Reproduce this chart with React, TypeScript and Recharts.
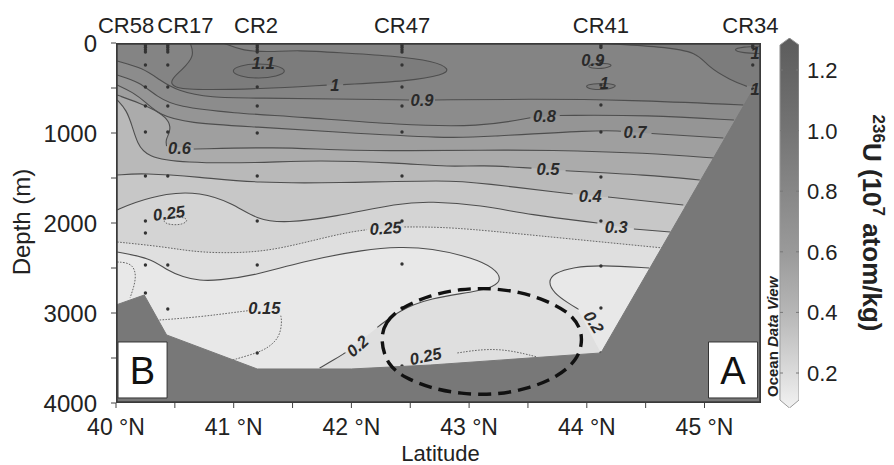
import React from 'react';
import { ComposedChart, Scatter, XAxis, YAxis } from 'recharts';

type P = [number, number];

const FONT = '"Liberation Sans", Arial, Helvetica, sans-serif';
const LAT_MIN = 40;
const LAT_MAX = 45.48;
const DEPTH_MAX = 4000;

// axis ticks
const latTicks = [40, 40.5, 41, 41.5, 42, 42.5, 43, 43.5, 44, 44.5, 45];
const depthTicks = [0, 500, 1000, 1500, 2000, 2500, 3000, 3500, 4000];
const cbTicks = [0.2, 0.4, 0.6, 0.8, 1.0, 1.2];

// stations
const stationNames = ['CR58', 'CR17', 'CR2', 'CR47', 'CR41', 'CR34'];
const stationLabelLat = [40.085, 40.59, 41.19, 42.43, 44.12, 45.39];
const stationLat = [40.25, 40.44, 41.2, 42.43, 44.12, 45.41];
const stationDepths = [
  [10, 30, 50, 75, 100, 244, 489, 700, 989, 1478, 1978, 2111, 2467, 2778],
  [10, 30, 50, 75, 100, 244, 489, 700, 989, 1478, 2467, 2956],
  [10, 30, 50, 75, 100, 489, 700, 1000, 1478, 1978, 2467, 3444],
  [10, 30, 50, 75, 100, 244, 489, 700, 989, 1478, 1978, 2456, 2944, 3589],
  [10, 30, 50, 222, 467, 689, 989, 1489, 1978, 2478, 2944, 3444],
  [10, 30, 50, 244, 511],
];

// contour lines, [latitude, depth]
const c11: P[] = [[40.97, 311], [41.05, 250], [41.21, 225], [41.37, 250], [41.46, 311], [41.37, 372], [41.21, 397], [41.05, 372]];
const c10a: P[] = [[40.63, 0], [40.67, 144], [40.56, 300], [40.46, 411], [40.48, 500], [40.69, 522], [41.22, 511], [41.79, 468]];
const c10b: P[] = [[41.93, 462], [42.5, 422], [42.78, 356], [42.84, 289], [42.7, 200], [42.36, 144], [41.93, 111], [41.54, 78], [41.31, 100], [41.08, 89], [40.91, 0]];
const cTR: P[] = [[44.1, 0], [44.65, 44], [44.94, 100], [45.03, 267], [45.22, 411], [45.36, 482]];
const cTRloop: P[] = [[45.48, 35], [45.33, 42], [45.23, 75], [45.33, 112], [45.48, 118]];
const c09loop: P[] = [[44.0, 250], [44.1, 218], [44.24, 240], [44.16, 285], [44.03, 282]];
const c10loop: P[] = [[43.98, 480], [44.04, 452], [44.2, 447], [44.27, 478], [44.16, 522], [44.03, 515]];
const c09a: P[] = [[40.01, 200], [40.23, 278], [40.37, 411], [40.52, 533], [40.8, 611], [41.22, 611], [41.85, 622], [42.49, 633]];
const c09b: P[] = [[42.71, 633], [43.52, 622], [44.37, 633], [45.33, 689]];
const c08a: P[] = [[40.01, 356], [40.2, 433], [40.35, 600], [40.52, 711], [40.99, 778], [41.56, 822], [42.41, 911], [43.1, 933], [43.52, 830]];
const c08b: P[] = [[43.77, 805], [44.52, 800], [45.25, 856]];
const c07a: P[] = [[40.01, 467], [40.14, 544], [40.26, 667], [40.37, 800], [40.6, 889], [41.2, 933], [41.85, 989], [42.84, 1060], [43.1, 1044], [44.09, 967], [44.29, 980]];
const c07b: P[] = [[44.55, 1005], [45.16, 1056]];
const c06a: P[] = [[40.01, 578], [40.2, 667], [40.37, 767], [40.46, 878], [40.46, 989], [40.42, 1078], [40.43, 1145]];
const c06b: P[] = [[40.66, 1178], [41.37, 1156], [41.85, 1189], [42.5, 1200], [43.1, 1189], [43.67, 1189], [44.52, 1222], [45.08, 1278]];
const c05a: P[] = [[40.01, 633], [40.09, 744], [40.14, 933], [40.18, 1111], [40.26, 1267], [40.57, 1333], [41.2, 1333], [41.71, 1300], [42.41, 1333], [42.84, 1378], [43.1, 1356], [43.53, 1390]];
const c05b: P[] = [[43.82, 1420], [44.52, 1467], [44.96, 1522]];
const c04a: P[] = [[40.01, 1467], [40.23, 1444], [40.71, 1489], [41.2, 1556], [41.85, 1556], [42.84, 1522], [43.1, 1556], [43.88, 1678]];
const c04b: P[] = [[44.18, 1711], [44.82, 1800]];
const c03a: P[] = [[40.01, 1856], [40.14, 1778], [40.43, 1667], [40.71, 1656], [40.99, 1778], [41.2, 1967], [41.45, 2000], [41.85, 1933], [42.41, 1778], [42.67, 1760], [43.1, 1800], [43.52, 1911], [44.09, 2000]];
const c03b: P[] = [[44.4, 2067], [44.71, 2100]];
const c025a: P[] = [[40.01, 2211], [40.43, 2267], [40.71, 2333], [41.2, 2333], [41.56, 2233], [41.93, 2111], [42.13, 2075]];
const c025b: P[] = [[42.45, 2044], [42.84, 2044], [43.52, 2133], [44.65, 2278]];
const c025loop: P[] = [[40.39, 1978], [40.45, 1935], [40.55, 1930], [40.62, 1960], [40.57, 2020], [40.45, 2022]];
const c02La: P[] = [[40.01, 2322], [40.29, 2389], [40.43, 2522], [40.57, 2600], [40.71, 2640], [40.86, 2640], [41.2, 2578], [41.56, 2433], [42.13, 2289], [42.41, 2267], [42.67, 2278], [43.04, 2389], [43.21, 2500], [43.28, 2622], [43.21, 2711], [43.04, 2767], [42.67, 2833], [42.41, 2967], [42.22, 3160]];
const c02Lb: P[] = [[41.95, 3440], [41.85, 3522], [41.73, 3611]];
const c02R: P[] = [[44.53, 2500], [44.12, 2467], [43.89, 2489], [43.72, 2556], [43.67, 2656], [43.72, 2778], [43.84, 2889], [43.93, 2960]];
const c015L: P[] = [[40.01, 2433], [40.14, 2444], [40.18, 2600], [40.12, 2830]];
const c015a: P[] = [[40.37, 3078], [40.71, 3044], [41.03, 2989], [41.12, 2975]];
const c015b: P[] = [[41.4, 3030], [41.41, 3100], [41.39, 3267], [41.3, 3380], [41.2, 3444], [40.99, 3522]];
const c025bot: P[] = [[42.9, 3444], [43.24, 3378], [43.58, 3489]];

// dashed outline around the deep maximum
const ellipse: P[] = [
  [42.245, 3300], [42.287, 3100], [42.415, 2944], [42.67, 2800], [42.925, 2733], [43.18, 2722],
  [43.435, 2767], [43.648, 2856], [43.861, 3000], [43.946, 3167], [43.963, 3322], [43.92, 3522],
  [43.75, 3711], [43.52, 3833], [43.24, 3911], [42.925, 3900], [42.67, 3833], [42.457, 3722], [42.304, 3578],
];

// sea floor
const bathy: P[] = [[40, 2911], [40.24, 2800], [40.43, 3244], [41.2, 3622], [42.0, 3622], [42.67, 3578], [44.12, 3444], [45.41, 522], [45.48, 500], [45.48, 4000], [40, 4000]];

// contour labels
const labelText = ['1.1', '1', '0.9', '0.8', '0.7', '0.6', '0.5', '0.4', '0.3', '0.25', '0.25', '0.2', '0.2', '0.15', '0.25', '0.9', '1', '1', '1'];
const labelLat = [41.25, 41.86, 42.6, 43.64, 44.41, 40.54, 43.67, 44.03, 44.25, 42.29, 40.45, 42.05, 44.06, 41.26, 42.63, 44.05, 44.15, 45.43, 45.43];
const labelDepth = [222, 467, 633, 811, 989, 1167, 1400, 1700, 2044, 2056, 1889, 3367, 3100, 2944, 3478, 189, 444, 111, 514];
const labelAngle = [0, 0, 0, 0, 0, 0, 0, 0, 0, -4, -8, -42, 58, 0, -12, 0, 0, 0, 0];

// panel letters
const panelText = ['B', 'A'];
const panelLat = [40.225, 45.242];
const panelDepth = [3633, 3633];
const boxB: P[] = [[40.017, 3322], [40.434, 3322], [40.434, 3944], [40.017, 3944], [40.017, 3322]];
const boxA: P[] = [[45.034, 3322], [45.451, 3322], [45.451, 3944], [45.034, 3944], [45.034, 3322]];

// colour bar outline (x across the bar, v = 236U value)
const cbOutline = [[0.44, 0.1109], [0.44, 1.2825], [0.72, 1.3056], [1, 1.2825], [1, 0.1109], [0.72, 0.0845], [0.44, 0.1109]];

const toPts = (a: P[]) => a.map(([lat, depth]) => ({ lat, depth }));
const BL: P = [LAT_MIN, DEPTH_MAX];
const BR: P = [LAT_MAX, DEPTH_MAX];
const triple = (p: P): P[] => [p, p, p];
const below = (line: P[], corner: P[] = [...triple(BR), ...triple(BL)]) => {
  const end = line[line.length - 1];
  return toPts([...line, end, end, ...corner]);
};

const fills: { id: string; data: { lat: number; depth: number }[]; color: string; type: string }[] = [
  { id: 'base', data: toPts([[LAT_MIN, 0], [LAT_MAX, 0], BR, BL]), color: '#848484', type: 'linear' },
  { id: 'gt1', data: toPts([...c10a, ...c10b]), color: '#7c7c7c', type: 'basis' },
  { id: 'gt1tr', data: toPts([...cTR, ...triple([LAT_MAX, 500]), [LAT_MAX, 0]]), color: '#7c7c7c', type: 'basis' },
  { id: 'gt11', data: toPts(c11), color: '#777777', type: 'basisClosed' },
  { id: 'gt1loop', data: toPts(c10loop), color: '#7c7c7c', type: 'basisClosed' },
  { id: 'b09', data: below([...c09a, ...c09b]), color: '#8c8c8c', type: 'basis' },
  { id: 'b08', data: below([...c08a, ...c08b]), color: '#959595', type: 'basis' },
  { id: 'b07', data: below([...c07a, ...c07b]), color: '#9f9f9f', type: 'basis' },
  { id: 'b06', data: below([...c06a, ...c06b]), color: '#ababab', type: 'basis' },
  { id: 'b05', data: below([...c05a, ...c05b]), color: '#b9b9b9', type: 'basis' },
  { id: 'b04', data: below([...c04a, ...c04b]), color: '#c7c7c7', type: 'basis' },
  { id: 'b03', data: below([...c03a, ...c03b]), color: '#d4d4d4', type: 'basis' },
  { id: 'b025', data: below([...c025a, ...c025b]), color: '#dfdfdf', type: 'basis' },
  { id: 'b025loop', data: toPts(c025loop), color: '#dddddd', type: 'basisClosed' },
  { id: 'b02L', data: below([...c02La, ...c02Lb], [...triple([41.73, DEPTH_MAX]), ...triple(BL)]), color: '#e8e8e8', type: 'basis' },
  { id: 'b02R', data: below([...c02R, [44.0, 3150]], [...triple([44.12, 3444]), ...triple(BR)]), color: '#e8e8e8', type: 'basis' },
];

const lines: { id: string; d: P[]; dotted?: boolean; closed?: boolean }[] = [
  { id: 'c11', d: c11, closed: true },
  { id: 'c10a', d: c10a },
  { id: 'c10b', d: c10b },
  { id: 'cTR', d: cTR },
  { id: 'cTRloop', d: cTRloop },
  { id: 'c09loop', d: c09loop, closed: true },
  { id: 'c10loop', d: c10loop, closed: true },
  { id: 'c09a', d: c09a },
  { id: 'c09b', d: c09b },
  { id: 'c08a', d: c08a },
  { id: 'c08b', d: c08b },
  { id: 'c07a', d: c07a },
  { id: 'c07b', d: c07b },
  { id: 'c06a', d: c06a },
  { id: 'c06b', d: c06b },
  { id: 'c05a', d: c05a },
  { id: 'c05b', d: c05b },
  { id: 'c04a', d: c04a },
  { id: 'c04b', d: c04b },
  { id: 'c03a', d: c03a },
  { id: 'c03b', d: c03b },
  { id: 'c025a', d: c025a, dotted: true },
  { id: 'c025b', d: c025b, dotted: true },
  { id: 'c025loop', d: c025loop, dotted: true, closed: true },
  { id: 'c02La', d: c02La },
  { id: 'c02Lb', d: c02Lb },
  { id: 'c02R', d: c02R },
  { id: 'c015L', d: c015L, dotted: true },
  { id: 'c015a', d: c015a, dotted: true },
  { id: 'c015b', d: c015b, dotted: true },
  { id: 'c025bot', d: c025bot, dotted: true },
];

const stationDots = stationLat.flatMap((lat, i) => stationDepths[i].map((depth) => ({ lat, depth })));
const stationAnchors = stationLabelLat.map((lat) => ({ lat, depth: 0 }));
const contourLabels = labelText.map((text, i) => ({ lat: labelLat[i], depth: labelDepth[i], text, angle: labelAngle[i] }));
const panelLabels = panelText.map((text, i) => ({ lat: panelLat[i], depth: panelDepth[i], text }));
const frame = toPts([[LAT_MIN, 0], [LAT_MAX, 0], BR, BL, [LAT_MIN, 0]]);
const cbData = cbOutline.map(([x, v]) => ({ x, v }));
const odvData = [{ x: 0.38, v: 0.1109 }];

const noShape = () => <g />;
const solidLine = { stroke: '#4e4e4e', strokeWidth: 1.1, fill: 'none' };
const dottedLine = { stroke: '#666', strokeWidth: 1, strokeDasharray: '1.6 1.4', fill: 'none' };

const Dot = (p: any) => <circle cx={p.cx} cy={p.cy} r={1.7} fill="#333" />;

const ContourLabel = (p: any) => {
  const { cx, cy, payload } = p;
  return (
    <text x={cx} y={cy} dy="0.36em" textAnchor="middle" fontSize={16.5} fontWeight="bold" fontStyle="italic"
      fill="#2a2a2a" transform={`rotate(${payload.angle} ${cx} ${cy})`}>
      {payload.text}
    </text>
  );
};

const PanelLetter = (p: any) => (
  <text x={p.cx} y={p.cy} dy="0.36em" textAnchor="middle" fontSize={38} fill="#111">{p.payload.text}</text>
);

const OdvMark = (p: any) => (
  <text x={p.cx} y={p.cy - 3} transform={`rotate(-90 ${p.cx} ${p.cy - 3})`} fontSize={15} fontWeight="bold" fill="#222">
    <tspan>Ocean </tspan>
    <tspan fontStyle="italic">Data View</tspan>
  </text>
);

const DepthLabel = (p: any) => {
  const vb = p.viewBox;
  const x = vb.x + 30;
  const y = vb.y + vb.height / 2 - 1;
  return (
    <text x={x} y={y} transform={`rotate(-90 ${x} ${y})`} textAnchor="middle" fontSize={24} fill="#222">Depth (m)</text>
  );
};

const LatLabel = (p: any) => {
  const vb = p.viewBox;
  return (
    <text x={vb.x + vb.width / 2 + 2} y={vb.y + vb.height - 4} textAnchor="middle" fontSize={22} fill="#222">Latitude</text>
  );
};

const CbTitle = (p: any) => {
  const vb = p.viewBox;
  const x = vb.x + 64;
  const y = vb.y + vb.height / 2;
  return (
    <text x={x} y={y} transform={`rotate(90 ${x} ${y})`} textAnchor="middle" fontSize={26} fontWeight="bold" fill="#222">
      <tspan fontSize={17} dy={-10}>236</tspan>
      <tspan dy={10}>U (10</tspan>
      <tspan fontSize={17} dy={-10}>7</tspan>
      <tspan dy={10}> atom/kg)</tspan>
    </text>
  );
};

const CbTick = (p: any) => (
  <g>
    <line x1={p.x - 27} x2={p.x - 24} y1={p.y} y2={p.y} stroke="#777" />
    <line x1={p.x - 11} x2={p.x - 8} y1={p.y} y2={p.y} stroke="#777" />
    <text x={p.x} y={p.y} dy="0.36em" textAnchor="start" fontSize={22} fill="#222">
      {Number(p.payload.value).toFixed(1)}
    </text>
  </g>
);

export default function App() {
  return (
    <div style={{ position: 'absolute', left: 0, top: 0, width: 894, height: 465, fontFamily: FONT, background: '#fff' }}>
      <div style={{ position: 'absolute', left: 0, top: 0 }}>
        <ComposedChart width={894} height={465} margin={{ top: 13, right: 133, bottom: 0, left: 0 }}>
          <XAxis dataKey="lat" type="number" domain={[LAT_MIN, LAT_MAX]} ticks={latTicks} interval={0} allowDataOverflow
            tickFormatter={(v: number) => (Number.isInteger(v) ? `${v} °N` : '')}
            height={62} tickSize={5} tickMargin={11} axisLine={false} stroke="#444"
            tick={{ fontSize: 23, fill: '#222' }} label={LatLabel} />
          <XAxis xAxisId="top" dataKey="lat" orientation="top" type="number" domain={[LAT_MIN, LAT_MAX]} ticks={stationLabelLat}
            interval={0} allowDataOverflow tickFormatter={(_v: number, i: number) => stationNames[i]}
            height={30} tickSize={0} tickMargin={10} axisLine={false} tickLine={false}
            tick={{ fontSize: 22, fill: '#222' }} />
          <YAxis dataKey="depth" type="number" reversed domain={[0, DEPTH_MAX]} ticks={depthTicks} interval={0} allowDataOverflow
            tickFormatter={(v: number) => (v % 1000 === 0 ? String(v) : '')}
            width={116} tickSize={5} tickMargin={14} axisLine={false} stroke="#444"
            tick={{ fontSize: 24, fill: '#222' }} label={DepthLabel} />

          {fills.map((f) => (
            <Scatter key={f.id} data={f.data} shape={noShape} line={{ fill: f.color, stroke: 'none' }}
              lineType="joint" lineJointType={f.type as any} isAnimationActive={false} />
          ))}

          {lines.map((c) => (
            <Scatter key={c.id} data={toPts(c.d)} shape={noShape} line={c.dotted ? dottedLine : solidLine}
              lineType="joint" lineJointType={c.closed ? 'basisClosed' : 'basis'} isAnimationActive={false} />
          ))}

          <Scatter xAxisId="top" data={stationAnchors} shape={noShape} isAnimationActive={false} />
          <Scatter data={stationDots} shape={Dot} isAnimationActive={false} />

          <Scatter data={toPts(bathy)} shape={noShape} line={{ fill: '#787878', stroke: '#787878', strokeWidth: 1 }}
            lineType="joint" lineJointType="linear" isAnimationActive={false} />

          <Scatter data={toPts(boxB)} shape={noShape} line={{ fill: '#fff', stroke: '#333', strokeWidth: 1 }}
            lineType="joint" lineJointType="linear" isAnimationActive={false} />
          <Scatter data={toPts(boxA)} shape={noShape} line={{ fill: '#fff', stroke: '#333', strokeWidth: 1 }}
            lineType="joint" lineJointType="linear" isAnimationActive={false} />
          <Scatter data={panelLabels} shape={PanelLetter} isAnimationActive={false} />

          <Scatter data={contourLabels} shape={ContourLabel} isAnimationActive={false} />

          <Scatter data={toPts(ellipse)} shape={noShape}
            line={{ stroke: '#111', strokeWidth: 3.4, strokeDasharray: '13 7', fill: 'none' }}
            lineType="joint" lineJointType="basisClosed" isAnimationActive={false} />

          <Scatter data={frame} shape={noShape} line={{ stroke: '#3a3a3a', strokeWidth: 3.5, fill: 'none' }}
            lineType="joint" lineJointType="linear" isAnimationActive={false} />
        </ComposedChart>
      </div>

      <div style={{ position: 'absolute', left: 0, top: 0 }}>
        <ComposedChart width={894} height={465} margin={{ top: 38, right: 0, bottom: 57, left: 765 }}>
          <defs>
            <linearGradient id="cbFill" x1="0" y1="0" x2="0" y2="1">
              <stop offset="0" stopColor="#5c5c5c" />
              <stop offset="0.25" stopColor="#747474" />
              <stop offset="0.58" stopColor="#9a9a9a" />
              <stop offset="0.74" stopColor="#b6b6b6" />
              <stop offset="0.9" stopColor="#dadada" />
              <stop offset="1" stopColor="#f2f2f2" />
            </linearGradient>
          </defs>
          <XAxis dataKey="x" type="number" domain={[0, 1]} hide allowDataOverflow />
          <YAxis dataKey="v" type="number" orientation="right" domain={[0.0845, 1.3056]} ticks={cbTicks} interval={0}
            allowDataOverflow width={95} axisLine={false} tickLine={false} tickSize={0} tickMargin={8}
            tick={CbTick} label={CbTitle} />
          <Scatter data={cbData} shape={noShape} line={{ fill: 'url(#cbFill)', stroke: '#9a9a9a', strokeWidth: 1 }}
            lineType="joint" lineJointType="linear" isAnimationActive={false} />
          <Scatter data={odvData} shape={OdvMark} isAnimationActive={false} />
        </ComposedChart>
      </div>
    </div>
  );
}
